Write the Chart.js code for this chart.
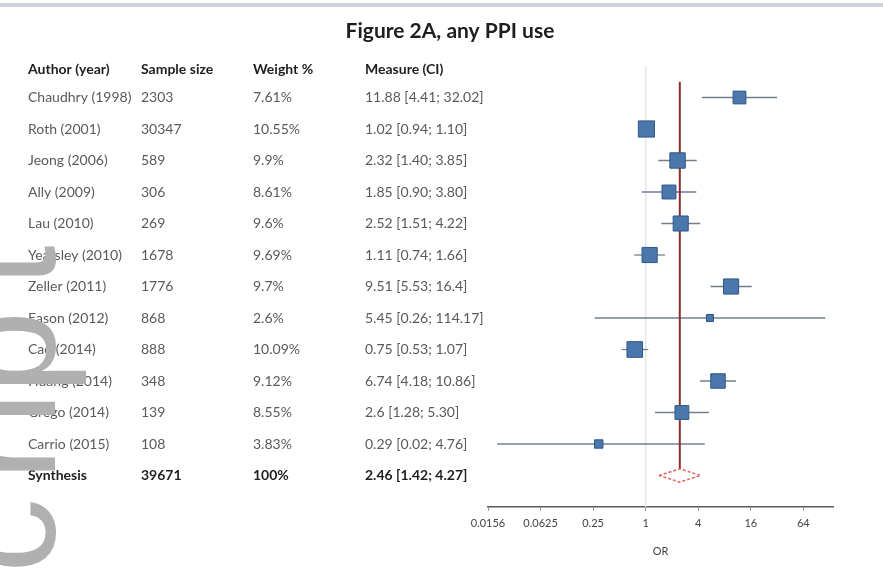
<!DOCTYPE html>
<html>
<head>
<meta charset="utf-8">
<script src="https://cdn.jsdelivr.net/npm/chart.js@4/dist/chart.umd.min.js"></script>
<style>
  html, body { margin: 0; padding: 0; background: #fff; }
  #wrap { position: relative; width: 883px; height: 573px; }
  canvas { display: block; }
</style>
</head>
<body>
<div id="wrap"><canvas id="forest" width="883" height="573"></canvas></div>
<script>
// Study table and effect sizes (odds ratios, 95% CI)
const authors = ['Chaudhry (1998)', 'Roth (2001)', 'Jeong (2006)', 'Ally (2009)', 'Lau (2010)',
  'Yearsley (2010)', 'Zeller (2011)', 'Eason (2012)', 'Cao (2014)', 'Huang (2014)',
  'Grego (2014)', 'Carrio (2015)'];
const sampleSizes = ['2303', '30347', '589', '306', '269', '1678', '1776', '868', '888', '348', '139', '108'];
const weights = [7.61, 10.55, 9.9, 8.61, 9.6, 9.69, 9.7, 2.6, 10.09, 9.12, 8.55, 3.83];
const weightLabels = ['7.61%', '10.55%', '9.9%', '8.61%', '9.6%', '9.69%', '9.7%', '2.6%',
  '10.09%', '9.12%', '8.55%', '3.83%'];
const oddsRatios = [11.88, 1.02, 2.32, 1.85, 2.52, 1.11, 9.51, 5.45, 0.75, 6.74, 2.6, 0.29];
const ciLow = [4.41, 0.94, 1.40, 0.90, 1.51, 0.74, 5.53, 0.26, 0.53, 4.18, 1.28, 0.02];
const ciHigh = [32.02, 1.10, 3.85, 3.80, 4.22, 1.66, 16.4, 114.17, 1.07, 10.86, 5.30, 4.76];
const measureLabels = ['11.88 [4.41; 32.02]', '1.02 [0.94; 1.10]', '2.32 [1.40; 3.85]',
  '1.85 [0.90; 3.80]', '2.52 [1.51; 4.22]', '1.11 [0.74; 1.66]', '9.51 [5.53; 16.4]',
  '5.45 [0.26; 114.17]', '0.75 [0.53; 1.07]', '6.74 [4.18; 10.86]', '2.6 [1.28; 5.30]',
  '0.29 [0.02; 4.76]'];

// Pooled estimate
const pooledName = 'Synthesis';
const pooledSample = '39671';
const pooledWeight = '100%';
const pooledOR = 2.46;
const pooledLow = 1.42;
const pooledHigh = 4.27;
const pooledLabel = '2.46 [1.42; 4.27]';

// Column headers and axis ticks
const headers = ['Author (year)', 'Sample size', 'Weight %', 'Measure (CI)'];
const xTickValues = [1 / 64, 1 / 16, 1 / 4, 1, 4, 16, 64];
const xTickLabels = ['0.0156', '0.0625', '0.25', '1', '4', '16', '64'];
const chartTitle = 'Figure 2A, any PPI use';
const axisTitle = 'OR';

const FONT = 'Lato, "Open Sans", "Liberation Sans", sans-serif';
const pooledRow = authors.length;

// Squares scaled by study weight
const squares = oddsRatios.map((v, i) => ({ x: v, y: i }));
const squareRadius = weights.map(w => (4 + 1.15 * w) / Math.SQRT2);

const ciSets = oddsRatios.map((v, i) => ({
  type: 'line',
  data: [{ x: ciLow[i], y: i }, { x: ciHigh[i], y: i }],
  borderColor: '#737d90',
  borderWidth: 1.3,
  pointRadius: 0,
  order: 3
}));

// Vertical margin stamp, set letter by letter along the left edge
const stampLetters = ['c', 'r', 'i', 'p', 't'];
const stampOffsets = [573, 481, 425, 394, 287];

const tablePlugin = {
  id: 'forestTable',
  beforeDraw(chart) {
    const ctx = chart.ctx;
    ctx.save();
    ctx.fillStyle = '#ffffff';
    ctx.fillRect(0, 0, chart.width, chart.height);
    ctx.fillStyle = '#cfd4dc';
    ctx.fillRect(0, 3, chart.width, 4);
    ctx.restore();
  },
  afterDraw(chart) {
    const ctx = chart.ctx;
    const ys = chart.scales.y;
    const cols = [28, 141, 253, 365];
    ctx.save();
    ctx.textBaseline = 'middle';
    ctx.textAlign = 'center';
    ctx.fillStyle = '#1e1e1e';
    ctx.font = 'bold 21px ' + FONT;
    ctx.fillText(chartTitle, 450, 31);

    ctx.textAlign = 'left';
    ctx.font = 'bold 14px ' + FONT;
    const hy = ys.getPixelForValue(-0.9);
    headers.forEach((h, c) => ctx.fillText(h, cols[c], hy));

    ctx.font = '14px ' + FONT;
    ctx.fillStyle = '#5a5a5a';
    authors.forEach((a, i) => {
      const y = ys.getPixelForValue(i);
      ctx.fillText(a, cols[0], y);
      ctx.fillText(sampleSizes[i], cols[1], y);
      ctx.fillText(weightLabels[i], cols[2], y);
      ctx.fillText(measureLabels[i], cols[3], y);
    });
    ctx.font = 'bold 14px ' + FONT;
    ctx.fillStyle = '#1e1e1e';
    const py = ys.getPixelForValue(pooledRow);
    [pooledName, pooledSample, pooledWeight, pooledLabel].forEach((t, c) => ctx.fillText(t, cols[c], py));

    ctx.translate(55, 0);
    ctx.rotate(-Math.PI / 2);
    ctx.fillStyle = '#b0b0b0';
    ctx.font = '150px "Liberation Sans", Arial, sans-serif';
    ctx.textBaseline = 'alphabetic';
    stampLetters.forEach((ch, k) => ctx.fillText(ch, -stampOffsets[k], 0));
    ctx.restore();
  }
};

new Chart(document.getElementById('forest'), {
  type: 'scatter',
  data: {
    datasets: [
      {
        type: 'scatter',
        data: squares,
        pointStyle: 'rect',
        pointRadius: squareRadius,
        pointHoverRadius: squareRadius,
        backgroundColor: '#4a78ac',
        borderColor: '#2d5683',
        borderWidth: 1,
        order: 0
      },
      {
        type: 'line',
        data: [
          { x: pooledLow, y: pooledRow },
          { x: pooledOR, y: pooledRow - 0.21 },
          { x: pooledHigh, y: pooledRow },
          { x: pooledOR, y: pooledRow + 0.21 },
          { x: pooledLow, y: pooledRow }
        ],
        borderColor: '#e0605c',
        borderDash: [3, 2],
        borderWidth: 1.5,
        pointRadius: 0,
        tension: 0,
        order: 1
      },
      {
        type: 'line',
        data: [{ x: pooledOR, y: -0.5 }, { x: pooledOR, y: pooledRow - 0.21 }],
        borderColor: '#8a2f2c',
        borderWidth: 2,
        pointRadius: 0,
        order: 2
      },
      ...ciSets,
      {
        type: 'line',
        data: [{ x: 1, y: -1 }, { x: 1, y: 13 }],
        borderColor: '#e1e5ec',
        borderWidth: 1,
        pointRadius: 0,
        order: 4
      }
    ]
  },
  plugins: [tablePlugin],
  options: {
    responsive: false,
    animation: false,
    events: [],
    layout: { padding: { left: 488, right: 50, top: 66, bottom: 14.6 } },
    plugins: { legend: { display: false }, tooltip: { enabled: false }, title: { display: false } },
    scales: {
      x: {
        type: 'logarithmic',
        min: 1 / 64,
        max: 140,
        afterBuildTicks(scale) {
          scale.ticks = xTickValues.map(v => ({ value: v }));
        },
        grid: { display: true, drawOnChartArea: false, drawTicks: true, tickLength: 4, color: '#9a9a9a' },
        border: { display: true, color: '#5a5a5a', width: 1.5 },
        ticks: {
          autoSkip: false,
          maxRotation: 0,
          padding: 6,
          color: '#444',
          font: { family: FONT, size: 11 },
          callback: (v, i) => xTickLabels[i]
        },
        title: {
          display: true,
          text: axisTitle,
          color: '#444',
          font: { family: FONT, size: 11 },
          padding: { top: 9, bottom: 0 }
        }
      },
      y: {
        type: 'linear',
        reverse: true,
        min: -1,
        max: 13,
        display: false
      }
    }
  }
});
</script>
</body>
</html>
